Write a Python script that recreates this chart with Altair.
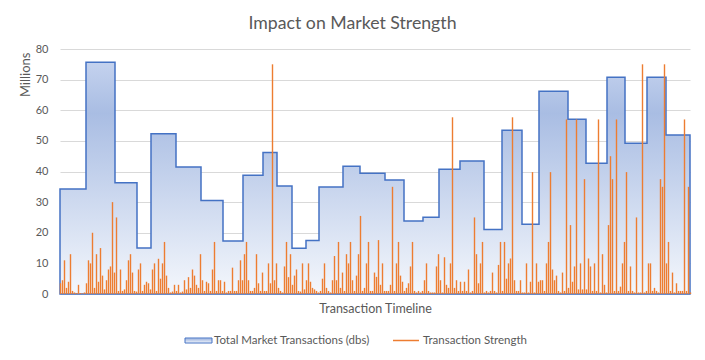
import altair as alt
import pandas as pd

# ---- data ----
# stepped "Total Market Transactions (dbs)" blocks (timeline index, millions)
block_start = [0, 26, 55, 77, 91, 116, 141, 163, 183, 203, 217, 232, 246, 259, 283,
               300, 325, 344, 363, 379, 400, 424, 442, 462, 479, 508, 526, 547, 565, 587, 606]
block_end = 630
block_value = [34.3, 75.7, 36.3, 15.0, 52.3, 41.5, 30.5, 17.3, 38.8, 46.2, 35.3, 14.9, 17.5, 34.9, 41.7,
               39.4, 37.2, 23.8, 25.1, 40.7, 43.4, 21.1, 53.5, 22.8, 66.2, 57.1, 42.7, 70.8, 49.2, 70.8, 51.9]

# "Transaction Strength" readings, one every 2 timeline units from 0 to 630
strength_values = [
    3.5, 4.5, 11, 2, 4, 13, 1, 0.5, 0.3, 3,
    0.3, 0.2, 0.5, 3.5, 11, 10, 20, 2, 13, 4,
    15, 6, 1.5, 4.5, 8, 9, 30, 7, 25, 1,
    8, 1, 1.5, 4.5, 11, 13, 7, 1, 0.8, 8,
    10, 1, 3, 4, 3.5, 1.5, 8, 10, 1, 11.5,
    5, 10, 17, 6, 2, 0.5, 0.8, 3, 1, 3,
    0.5, 0.8, 4.5, 1.5, 5.5, 2, 8, 6, 3, 2,
    13, 4.5, 1, 4, 3.5, 1, 8, 17, 1, 4.5,
    4.5, 1, 4, 0.5, 1, 1, 8.6, 1, 1, 4.5,
    11, 4.5, 13, 17, 4.5, 1, 1, 2, 13, 3.5,
    1, 7, 1, 1, 10, 3.5, 75, 4.5, 10, 2,
    1, 0.5, 9, 17, 5.5, 13, 3, 6, 8, 1,
    0.8, 10, 1.5, 4.5, 10, 4, 2, 1.5, 1, 0.5,
    1, 5, 10, 2, 1, 0.5, 4.5, 12.4, 4.5, 17,
    2, 7, 1, 13, 10, 17, 4.5, 1, 6, 13,
    25.5, 1, 2, 10, 17, 1, 1, 7, 5.6, 17.6,
    3, 10, 1, 1, 1, 3, 35, 1, 10, 17,
    6, 4, 1, 2, 3.5, 9, 17, 1, 0.5, 1,
    0.5, 1, 4.5, 10, 1, 0.5, 0.5, 0.5, 9, 13,
    4.5, 0.5, 12, 3, 2, 10, 57.7, 2, 4.5, 1,
    4, 1, 4, 1, 8, 0.5, 1, 25, 13, 3.5,
    10, 17, 0.5, 1, 0.5, 1, 7, 1, 0.5, 9.5,
    17, 1, 17, 5, 10, 11.6, 57.7, 4.5, 1, 1,
    4.5, 0.5, 0.5, 10, 0.5, 4, 39.8, 0.5, 10, 4,
    4.5, 4.5, 1, 10, 17, 39.8, 8, 4.5, 6, 1,
    0.5, 7, 1, 57, 2, 22.5, 4, 9, 57, 1.5,
    10, 1.5, 37.5, 1.5, 11.6, 9, 1, 10, 1, 57,
    0.5, 13, 3, 0.5, 22.5, 45, 37.5, 1, 57, 1,
    2.4, 10, 17, 39.8, 1, 9, 1, 0.5, 25, 0.5,
    0.5, 75, 0.5, 1, 10, 10, 1, 2, 1, 0.5,
    37.5, 35, 75, 10, 17, 1, 7, 0.5, 3.5, 1,
    1, 1, 57, 1, 35, 0.5,
]
strength_positions = list(range(0, 2 * len(strength_values), 2))

chart_title = "Impact on Market Strength"
series_names = ["Total Market Transactions (dbs)", "Transaction Strength"]
y_ticks = [0, 10, 20, 30, 40, 50, 60, 70, 80]

# ---- tables ----
area_df = pd.DataFrame({"t": block_start + [block_end], "v": block_value + [block_value[-1]]})
line_df = pd.DataFrame({"t": strength_positions, "v": strength_values})
dummy = pd.DataFrame({"k": [0]})

FONT = "Lato"
GREY = "#595959"
BLUE = "#4472c4"
ORANGE = "#ed7d31"

grad = alt.Gradient(
    gradient="linear",
    stops=[
        alt.GradientStop(color="#c4d2ee", offset=0),
        alt.GradientStop(color="#a9bde3", offset=0.22),
        alt.GradientStop(color="#f4f7fc", offset=1),
    ],
    x1=0, x2=0, y1=0, y2=1,
)

x_scale = alt.Scale(domain=[0, block_end], nice=False, zero=False)
y_scale = alt.Scale(domain=[0, 80], nice=False)
x_axis = alt.Axis(labels=False, ticks=False, domain=False, grid=False,
                  title="Transaction Timeline", titleFont=FONT, titleFontSize=12.5,
                  titleFontWeight="normal", titleColor=GREY, titlePadding=8)
y_axis = alt.Axis(values=y_ticks, tickCount=9, grid=True, gridColor="#d9d9d9", domain=False,
                  ticks=False, labelOverlap=False, labelFlush=False,
                  labelFont=FONT, labelFontSize=11, labelColor=GREY, labelPadding=12,
                  title="Millions", titleFont=FONT, titleFontSize=13, titleFontWeight="normal",
                  titleColor=GREY, titleAngle=270, titleAlign="right", titleBaseline="bottom",
                  titleX=-28, titleY=3)

area = alt.Chart(area_df).mark_area(
    interpolate="step-after", fill=grad, stroke=BLUE, strokeWidth=1.5
).encode(
    x=alt.X("t:Q", scale=x_scale, axis=x_axis),
    y=alt.Y("v:Q", scale=y_scale, axis=y_axis),
)

# the dense strength trace: each reading is a vertical stroke rising from the baseline
spikes = alt.Chart(line_df).mark_rule(color=ORANGE, strokeWidth=1.4, xOffset=0.5).encode(
    x=alt.X("t:Q", scale=x_scale, axis=x_axis),
    y=alt.Y("v:Q", scale=y_scale, axis=y_axis),
    y2=alt.datum(0),
)

# ---- title ----
title_mark = alt.Chart(dummy).mark_text(
    align="center", baseline="alphabetic", font=FONT, fontSize=17.7, color=GREY
).encode(x=alt.value(292.5), y=alt.value(-20), text=alt.value(chart_title))

# ---- legend (bottom) ----
leg_rect = alt.Chart(dummy).mark_rect(fill=grad, stroke=BLUE, strokeWidth=1).encode(
    x=alt.value(125), x2=alt.value(152), y=alt.value(289), y2=alt.value(294))
leg_text1 = alt.Chart(dummy).mark_text(
    align="left", baseline="middle", font=FONT, fontSize=11.5, color=GREY
).encode(x=alt.value(154), y=alt.value(291.5), text=alt.value(series_names[0]))
leg_line = alt.Chart(dummy).mark_rule(color=ORANGE, strokeWidth=1.5).encode(
    x=alt.value(333), x2=alt.value(359), y=alt.value(291.5))
leg_text2 = alt.Chart(dummy).mark_text(
    align="left", baseline="middle", font=FONT, fontSize=11.5, color=GREY
).encode(x=alt.value(363), y=alt.value(291.5), text=alt.value(series_names[1]))

chart = alt.layer(area, spikes, title_mark, leg_rect, leg_text1, leg_line, leg_text2).properties(
    width=630,
    height=245,
    autosize=alt.AutoSizeParams(type="none"),
    padding={"left": 52, "top": 41, "right": 7, "bottom": 58},
).configure_view(stroke=None)

chart.save("out.html", embed_options={"renderer": "svg", "actions": False})
